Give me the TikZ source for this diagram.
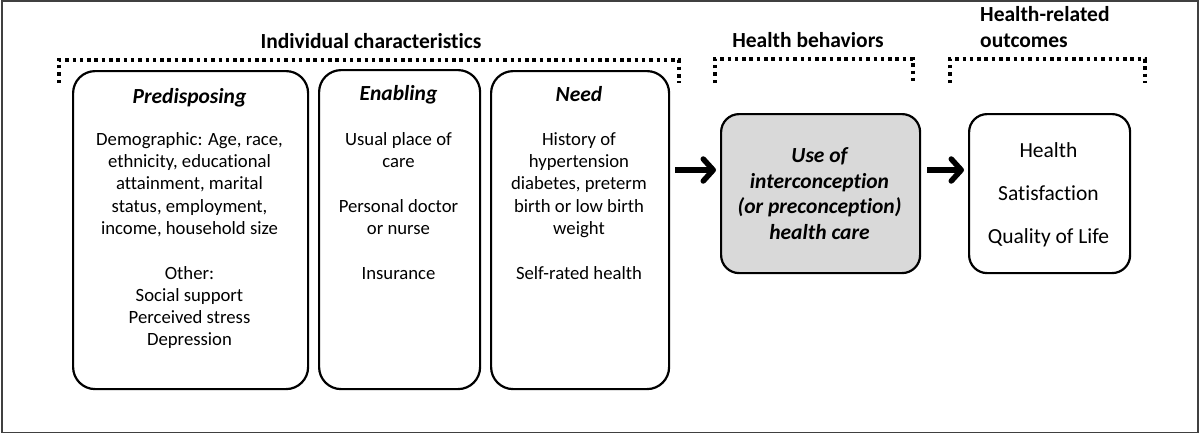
\documentclass[tikz,border=0pt]{standalone}
\usepackage{fontspec}
\setmainfont{Carlito}[Ligatures=NoCommon]
\usetikzlibrary{arrows.meta}
\definecolor{usegray}{HTML}{D9D9D9}
\definecolor{framegray}{HTML}{404040}
\newcommand\mystrut[1]{\rule{0pt}{#1}}
\begin{document}
\begin{tikzpicture}[x=1pt,y=-1pt,
  box/.style={draw=black,line width=2.2pt,rounded corners=#1,inner sep=0pt,anchor=north west},
  box/.default=22pt,
  hdr/.style={font=\fontsize{21.5}{26}\selectfont\bfseries\itshape,inner sep=0pt,anchor=base},
  bodytxt/.style={font=\fontsize{18.7}{22.3}\selectfont,align=center,anchor=north,inner sep=0pt},
  usetxt/.style={font=\fontsize{21.5}{25.8}\selectfont\bfseries\itshape,align=center,anchor=north,inner sep=0pt},
  hrotxt/.style={font=\fontsize{21.5}{43}\selectfont,align=center,anchor=north,inner sep=0pt},
  lbl/.style={font=\fontsize{21.5}{26.5}\selectfont\bfseries,inner sep=0pt},
  brk/.style={line width=3.2pt,dash pattern=on 3.5pt off 3.8pt},
  arr/.style={line width=5.5pt,-{Straight Barb[length=10pt,width=22pt,round]}}
]
\useasboundingbox (0,0) rectangle (1200,434);
\draw[line width=1.6pt,draw=framegray] (2,1) rectangle (1198,432.5);

% brackets
\draw[brk] (59,83) -- (59,60) -- (679,60) -- (679,83);
\draw[brk] (715,83) -- (715,59) -- (913,59) -- (913,83);
\draw[brk] (950,83) -- (950,59) -- (1145,59) -- (1145,83);

% labels
\node[lbl,anchor=base] (indL) at (371,48.5) {Individual characteristics};
\node[lbl,anchor=base] (hbL) at (808,47.5) {Health behaviors};
\node[lbl,anchor=north west,align=left] (hroL) at (980,3) {\mystrut{18pt}Health-related\\ outcomes};

% boxes
\node[box,minimum width=235pt,minimum height=318pt] (pre) at (72,70) {};
\node[box,minimum width=161pt,minimum height=319pt] (ena) at (318,69) {};
\node[box,minimum width=178pt,minimum height=318pt] (need) at (490,70) {};
\node[box=18pt,fill=usegray,minimum width=199pt,minimum height=159pt] (use) at (720,113) {};
\node[box=18pt,minimum width=161pt,minimum height=159pt] (hro) at (968,113) {};

% headers
\node[hdr] (preH) at (189.5,103) {Predisposing};
\node[hdr] (enaH) at (398.5,100) {Enabling};
\node[hdr] (needH) at (579,101) {Need};

% body texts
\node[bodytxt] (preT) at (189.5,129) {\mystrut{16pt}Demographic: Age, race,\\ ethnicity, educational\\ attainment, marital\\ status, employment,\\ income, household size\\[22.3pt] Other:\\ Social support\\ Perceived stress\\ Depression};
\node[bodytxt] (enaT) at (398.5,129) {\mystrut{16pt}Usual place of\\ care\\[22.3pt] Personal doctor\\ or nurse\\[22.3pt] Insurance};
\node[bodytxt] (needT) at (579,129) {\mystrut{16pt}History of\\ hypertension\\ diabetes, preterm\\ birth or low birth\\ weight\\[22.3pt] Self-rated health};
\node[usetxt] (useT) at (819.5,144) {\mystrut{18pt}Use of\\ interconception\\ (or preconception)\\ health care};
\node[hrotxt] (hroT) at (1048.5,139) {\mystrut{18pt}Health\\ Satisfaction\\ Quality of Life};

% arrows
\coordinate (ay) at (0,170);
\draw[arr,shorten <=5pt,shorten >=4pt] (need.east |- ay) -- (use.west |- ay);
\draw[arr,shorten <=6pt,shorten >=4pt] (use.east |- ay) -- (hro.west |- ay);
\end{tikzpicture}
\end{document}
